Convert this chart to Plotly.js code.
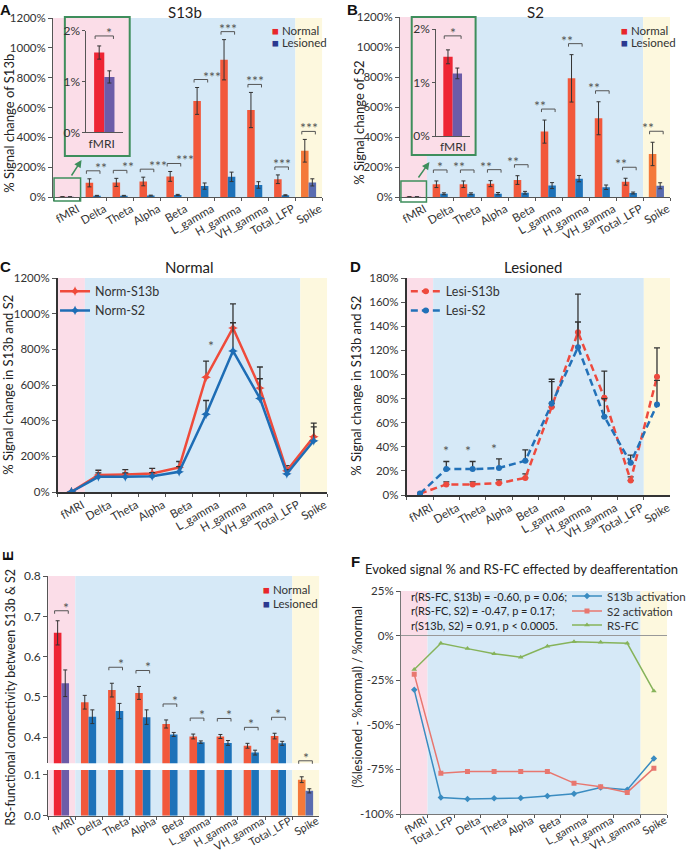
<!DOCTYPE html>
<html><head><meta charset="utf-8">
<script src="https://cdn.plot.ly/plotly-3.0.1.min.js"></script>
<style>html,body{margin:0;padding:0;background:#fff}#chart{width:691px;height:853px}</style>
</head><body><div id="chart"></div>
<script>
// ---------------- DATA ----------------
const categories = ['fMRI','Delta','Theta','Alpha','Beta','L_gamma','H_gamma','VH_gamma','Total_LFP','Spike'];
const categoriesF = ['fMRI','Total_LFP','Delta','Theta','Alpha','Beta','L_gamma','H_gamma','VH_gamma','Spike'];

// A: % signal change of S13b
const s13bNormal      = [1.57, 95, 98, 104, 138, 644, 920, 583, 119, 310];
const s13bNormalErr   = [0.13, 27, 27, 29, 33, 90, 135, 118, 29, 76];
const s13bLesioned    = [1.09, 8.8, 8.8, 9.8, 14.2, 73, 135, 80.7, 12, 98];
const s13bLesionedErr = [0.12, 2.1, 2.1, 2.7, 3.3, 21, 31.7, 22, 3, 24];
const s13bSig = ['*','**','**','***','***','***','***','***','***','***'];

// B: % signal change of S2
const s2Normal      = [1.48, 85, 85, 89, 113, 436, 791, 525, 102, 287];
const s2NormalErr   = [0.13, 22, 22, 20, 29, 77, 158, 110, 23, 78];
const s2Lesioned    = [1.17, 21.5, 21.5, 22.4, 28.4, 76, 122.5, 65, 26.7, 75];
const s2LesionedErr = [0.10, 6.3, 6.3, 7.6, 9, 20, 21, 15, 6.3, 20];
const s2Sig = ['*','*','**','**','**','**','**','**','**','**'];

// C / D significance between S13b and S2
const normalSig   = ['','','','','','*','','','',''];
const lesionedSig = ['','*','*','*','','','','','',''];

// E: RS-functional connectivity between S13b & S2
const rsfcNormal      = [0.659, 0.487, 0.517, 0.510, 0.433, 0.402, 0.402, 0.379, 0.403, 0.087];
const rsfcNormalErr   = [0.030, 0.017, 0.017, 0.016, 0.010, 0.006, 0.005, 0.006, 0.007, 0.007];
const rsfcLesioned    = [0.534, 0.451, 0.465, 0.450, 0.407, 0.388, 0.386, 0.362, 0.385, 0.060];
const rsfcLesionedErr = [0.033, 0.017, 0.019, 0.018, 0.005, 0.003, 0.006, 0.006, 0.005, 0.005];
const rsfcSig = ['*','','*','*','*','*','*','*','*','*'];

// F: (%lesioned - %normal) / %normal, in %
const s13bChange = [-30.4, -90.7, -91.6, -91.2, -91.1, -89.9, -88.6, -85.1, -86.4, -68.9];
const s2Change   = [-21.6, -77.1, -76.2, -76.2, -76.2, -76.2, -82.7, -84.7, -87.9, -74.3];
const rsfcChange = [-19.0, -4.3, -7.3, -10.2, -12.1, -6.0, -3.5, -3.7, -4.3, -31.1];
const fTickVals = [-100, -75, -50, -25, 0, 25];
const fTickText = ['-100%', '-75%', '-50%', '-25%', '0%', '25%'];
const insetTickVals = [0, 1, 2];
const insetTickText = ['0%', '1%', '2%'];
const corrText = ['r(RS-FC, S13b) = -0.60, p = 0.06;', 'r(RS-FC, S2) = -0.47, p = 0.17;', 'r(S13b, S2) = 0.91, p < 0.0005.'];

// ---------------- GEOMETRY / STYLE ----------------
const W = 691, H = 853;
const px = x => x / W;
const py = y => 1 - y / H;
const G = {
  A:  {L:54,  R:328, T:18,    B:197,   r:[0,1200]},
  Ai: {L:88,  R:125, T:30.7,  B:132.3, r:[0,2]},
  B:  {L:407, R:682, T:17,    B:197,   r:[0,1200]},
  Bi: {L:444, R:478, T:29,    B:136,   r:[0,2]},
  C:  {L:59,  R:333, T:278,   B:492,   r:[0,1200]},
  D:  {L:414, R:682, T:278,   B:495,   r:[0,180]},
  Eu: {L:49,  R:325, T:576,   B:763.3, r:[0.3355,0.8]},
  El: {L:49,  R:325, T:770,   B:815.7, r:[0,0.1104]},
  F:  {L:408, R:679, T:591,   B:814,   r:[-100,25]}
};
const PINK='#FBDDE8', BLUE='#D6E9F7', YEL='#FDF8DE', GREEN='#3E8E5C';
const FONT = 'Lato, "Liberation Sans", Arial, sans-serif';
const nC = categories.length;
const colN = categories.map((c,i)=> i===0 ? '#EE2534' : (i===nC-1 ? '#F4793A' : '#F2583B'));
const colL = categories.map((c,i)=> i===0 ? '#6C5CA8' : (i===nC-1 ? '#5A6CB0' : '#1D72B9'));
const BW = 0.28, OFFN = -0.29, OFFL = -0.01;
const errStyle = arr => ({type:'data', array:arr, color:'#333', thickness:1, width:2});
const upErr = arr => ({type:'data', symmetric:false, array:arr, arrayminus:arr.map(()=>0), color:'#333', thickness:1.3, width:3});

const yPix = (p, v) => p.B - (v - p.r[0]) / (p.r[1] - p.r[0]) * (p.B - p.T);
const xPix = (p, idx, n) => p.L + (idx + 0.5) / n * (p.R - p.L);

const shapes = [], annotations = [], traces = [];

// backgrounds
function bg(xr, yr){
  [[-0.5,0.5,PINK],[0.5,8.5,BLUE],[8.5,9.5,YEL]].forEach(([a,b,c])=>{
    shapes.push({type:'rect', xref:xr, yref:yr+' domain', x0:a, x1:b, y0:0, y1:1, fillcolor:c, line:{width:0}, layer:'below'});
  });
}
bg('x','y'); bg('x3','y3'); bg('x5','y5'); bg('x6','y6');
bg('x7','y7'); bg('x7','y8'); bg('x9','y9');

// inset boxes (fill) drawn after backgrounds
[[66,132,17,156],[419,484,17,155]].forEach(([l,r,t,b])=>{
  shapes.push({type:'rect', xref:'paper', yref:'paper', x0:px(l), x1:px(r), y0:py(b), y1:py(t), fillcolor:PINK, line:{color:GREEN, width:2}, layer:'below'});
});
// small boxes around fMRI + arrows
[[55,82,178,201],[408,434,181,202]].forEach(([l,r,t,b])=>{
  shapes.push({type:'rect', xref:'paper', yref:'paper', x0:px(l), x1:px(r), y0:py(b), y1:py(t), line:{color:GREEN, width:1.5}, layer:'above'});
});
[[83,160,-11,17],[437,162,-12,17]].forEach(([x,y,ax,ay])=>{
  annotations.push({xref:'paper', yref:'paper', x:px(x), y:py(y), ax:ax, ay:ay, text:'', showarrow:true, arrowhead:2, arrowsize:1, arrowwidth:1.5, arrowcolor:GREEN});
});

// significance brackets
const STAR = {size:14, color:'#555', family:FONT};
function bracket(p, n, i, topVal, gap, label){
  const y = yPix(p, topVal) - gap;
  const x0 = xPix(p, i + OFFN + 0.1*BW, n), x1 = xPix(p, i + OFFL + 0.9*BW, n);
  shapes.push({type:'path', xref:'paper', yref:'paper', layer:'above',
    path:`M${px(x0)},${py(y+3)} L${px(x0)},${py(y)} L${px(x1)},${py(y)} L${px(x1)},${py(y+3)}`,
    line:{color:'#555', width:1}});
  annotations.push({xref:'paper', yref:'paper', x:px((x0+x1)/2), y:py(y), yanchor:'bottom', yshift:-7,
    text:label, showarrow:false, font:STAR});
}
for (let i=1;i<nC;i++){
  if (s13bSig[i]) bracket(G.A, nC, i, s13bNormal[i]+s13bNormalErr[i], 8, s13bSig[i]);
  if (s2Sig[i]) bracket(G.B, nC, i, s2Normal[i]+s2NormalErr[i], 11, s2Sig[i]);
}
bracket(G.Ai, 1, 0, s13bNormal[0]+s13bNormalErr[0], 10, s13bSig[0]);
bracket(G.Bi, 1, 0, s2Normal[0]+s2NormalErr[0], 14, s2Sig[0]);
for (let i=0;i<nC;i++){
  if (!rsfcSig[i]) continue;
  const top = rsfcNormal[i]+rsfcNormalErr[i];
  bracket(top > G.Eu.r[0] ? G.Eu : G.El, nC, i, top, i===0 ? 10 : 16, rsfcSig[i]);
}
// C and D stars
for (let i=0;i<nC;i++){
  if (normalSig[i]){
    const top = Math.max(s13bNormal[i]+s13bNormalErr[i], s2Normal[i]+s2NormalErr[i]);
    annotations.push({xref:'paper', yref:'paper', x:px(xPix(G.C,i,nC)), y:py(yPix(G.C,top)-12), yanchor:'bottom', yshift:-7, text:normalSig[i], showarrow:false, font:STAR});
  }
  if (lesionedSig[i]){
    const top = Math.max(s13bLesioned[i]+s13bLesionedErr[i], s2Lesioned[i]+s2LesionedErr[i]);
    annotations.push({xref:'paper', yref:'paper', x:px(xPix(G.D,i,nC)), y:py(yPix(G.D,top)-7), yanchor:'bottom', yshift:-7, text:lesionedSig[i], showarrow:false, font:STAR});
  }
}

// ---------------- TRACES ----------------
function barPair(xa, ya, xs, yN, eN, yL, eL, cN, cL){
  traces.push({type:'bar', x:xs, y:yN, xaxis:xa, yaxis:ya, width:BW, offset:OFFN, marker:{color:cN, line:{width:0}}, error_y:errStyle(eN), showlegend:false});
  traces.push({type:'bar', x:xs, y:yL, xaxis:xa, yaxis:ya, width:BW, offset:OFFL, marker:{color:cL, line:{width:0}}, error_y:errStyle(eL), showlegend:false});
}
barPair('x','y', categories, s13bNormal, s13bNormalErr, s13bLesioned, s13bLesionedErr, colN, colL);
barPair('x2','y2', categories.slice(0,1), s13bNormal.slice(0,1), s13bNormalErr.slice(0,1), s13bLesioned.slice(0,1), s13bLesionedErr.slice(0,1), colN.slice(0,1), colL.slice(0,1));
barPair('x3','y3', categories, s2Normal, s2NormalErr, s2Lesioned, s2LesionedErr, colN, colL);
barPair('x4','y4', categories.slice(0,1), s2Normal.slice(0,1), s2NormalErr.slice(0,1), s2Lesioned.slice(0,1), s2LesionedErr.slice(0,1), colN.slice(0,1), colL.slice(0,1));
barPair('x7','y7', categories, rsfcNormal, rsfcNormalErr, rsfcLesioned, rsfcLesionedErr, colN, colL);
barPair('x7','y8', categories, rsfcNormal, rsfcNormalErr, rsfcLesioned, rsfcLesionedErr, colN, colL);

// C
traces.push({type:'scatter', mode:'lines+markers', name:'Norm-S13b', x:categories, y:s13bNormal, xaxis:'x5', yaxis:'y5',
  line:{color:'#EF4B3B', width:2.5}, marker:{symbol:'star-diamond', size:7, color:'#EF4B3B'}, error_y:upErr(s13bNormalErr), legend:'legend'});
traces.push({type:'scatter', mode:'lines+markers', name:'Norm-S2', x:categories, y:s2Normal, xaxis:'x5', yaxis:'y5',
  line:{color:'#1E6DB5', width:2.5}, marker:{symbol:'star-diamond', size:7, color:'#1E6DB5'}, error_y:upErr(s2NormalErr), legend:'legend'});
// D
traces.push({type:'scatter', mode:'lines+markers', name:'Lesi-S13b', x:categories, y:s13bLesioned, xaxis:'x6', yaxis:'y6',
  line:{color:'#EE4A3E', width:2.5, dash:'7px,4px'}, marker:{symbol:'circle', size:6, color:'#EE4A3E'}, error_y:upErr(s13bLesionedErr), legend:'legend2'});
traces.push({type:'scatter', mode:'lines+markers', name:'Lesi-S2', x:categories, y:s2Lesioned, xaxis:'x6', yaxis:'y6',
  line:{color:'#2271B8', width:2.5, dash:'7px,4px'}, marker:{symbol:'circle', size:6, color:'#2271B8'}, error_y:upErr(s2LesionedErr), legend:'legend2'});
// F
traces.push({type:'scatter', mode:'lines+markers', name:'S13b activation', x:categoriesF, y:s13bChange, xaxis:'x9', yaxis:'y9',
  line:{color:'#3A8CC1', width:1.5}, marker:{symbol:'diamond', size:5, color:'#3A8CC1'}, legend:'legend3'});
traces.push({type:'scatter', mode:'lines+markers', name:'S2 activation', x:categoriesF, y:s2Change, xaxis:'x9', yaxis:'y9',
  line:{color:'#E8776F', width:1.5}, marker:{symbol:'square', size:5, color:'#E8776F'}, legend:'legend4'});
traces.push({type:'scatter', mode:'lines+markers', name:'RS-FC', x:categoriesF, y:rsfcChange, xaxis:'x9', yaxis:'y9',
  line:{color:'#86B35A', width:1.5}, marker:{symbol:'triangle-up', size:5, color:'#86B35A'}, legend:'legend5'});

// ---------------- AXES ----------------
function xax(p, anchor, cats, extra){
  return Object.assign({domain:[px(p.L), px(p.R)], anchor:anchor, type:'category', categoryorder:'array', categoryarray:cats,
    range:[-0.5, cats.length-0.5], showline:true, linecolor:'#555', linewidth:1, ticks:'outside', tickson:'boundaries',
    ticklen:3, tickcolor:'#555', tickangle:-30, ticklabelshift:11, tickfont:{size:11.5, color:'#333'}, showgrid:false, zeroline:false, fixedrange:true}, extra||{});
}
function yax(p, anchor, extra){
  return Object.assign({domain:[py(p.B), py(p.T)], anchor:anchor, range:p.r, showline:true, linecolor:'#555', linewidth:1,
    ticks:'outside', ticklen:4, tickcolor:'#555', tickfont:{size:11.5, color:'#333'}, showgrid:false, zeroline:false, fixedrange:true}, extra||{});
}
const layout = {
  width:W, height:H, margin:{l:0,r:0,t:0,b:0}, paper_bgcolor:'#fff', plot_bgcolor:'rgba(0,0,0,0)',
  font:{family:FONT, size:11.5, color:'#333'}, barmode:'overlay', showlegend:true,
  xaxis:  xax(G.A,'y',categories),
  yaxis:  yax(G.A,'x',{dtick:200, ticksuffix:'%'}),
  xaxis2: xax(G.Ai,'y2',['fMRI'],{ticks:'', tickangle:0, ticklabelshift:-3, tickfont:{size:12,color:'#333'}}),
  yaxis2: yax(G.Ai,'x2',{tickvals:insetTickVals, ticktext:insetTickText, tickfont:{size:12,color:'#333'}, ticklen:3}),
  xaxis3: xax(G.B,'y3',categories),
  yaxis3: yax(G.B,'x3',{dtick:200, ticksuffix:'%'}),
  xaxis4: xax(G.Bi,'y4',['fMRI'],{ticks:'', tickangle:0, ticklabelshift:0, tickfont:{size:12,color:'#333'}}),
  yaxis4: yax(G.Bi,'x4',{tickvals:insetTickVals, ticktext:insetTickText, tickfont:{size:12,color:'#333'}, ticklen:3}),
  xaxis5: xax(G.C,'y5',categories,{linecolor:'#333', linewidth:2}),
  yaxis5: yax(G.C,'x5',{dtick:200, ticksuffix:'%', linecolor:'#333', linewidth:2}),
  xaxis6: xax(G.D,'y6',categories,{linecolor:'#333', linewidth:2}),
  yaxis6: yax(G.D,'x6',{dtick:20, ticksuffix:'%', linecolor:'#333', linewidth:2}),
  xaxis7: xax(G.El,'y8',categories,{tickfont:{size:11,color:'#333'}, ticklabelstandoff:-6}),
  yaxis7: yax(G.Eu,'x7',{tickvals:[0.4,0.5,0.6,0.7,0.8], tickformat:'.1f', tickfont:{size:12,color:'#333'}}),
  yaxis8: yax(G.El,'x7',{tickvals:[0,0.1], tickformat:'.1f', tickfont:{size:12,color:'#333'}}),
  xaxis9: xax(G.F,'y9',categoriesF,{linecolor:'#777', tickfont:{size:11,color:'#333'}, ticklabelstandoff:-5}),
  yaxis9: yax(G.F,'x9',{tickvals:fTickVals, ticktext:fTickText, linecolor:'#777', zeroline:true, zerolinecolor:'#999', zerolinewidth:1}),
  legend:  {x:px(56), y:py(301), xanchor:'left', yanchor:'middle', bgcolor:'rgba(0,0,0,0)', font:{size:12.5, color:'#333'}},
  legend2: {x:px(413), y:py(301), xanchor:'left', yanchor:'middle', bgcolor:'rgba(0,0,0,0)', font:{size:12.5, color:'#333'}},
  legend3: {x:px(577), y:py(596), xanchor:'left', yanchor:'middle', bgcolor:'rgba(0,0,0,0)', font:{size:11.5, color:'#333'}},
  legend4: {x:px(577), y:py(611), xanchor:'left', yanchor:'middle', bgcolor:'rgba(0,0,0,0)', font:{size:11.5, color:'#333'}},
  legend5: {x:px(577), y:py(625), xanchor:'left', yanchor:'middle', bgcolor:'rgba(0,0,0,0)', font:{size:11.5, color:'#333'}},
  shapes: shapes, annotations: annotations
};

// legends as square swatches (A, B, E)
function sqLegend(x, y, gap, items){
  items.forEach(([txt,col],k)=>{
    annotations.push({xref:'paper', yref:'paper', x:px(x), y:py(y+k*gap), xanchor:'left', yanchor:'middle', showarrow:false,
      text:`<span style="color:${col}">■</span> ${txt}`, font:{size:11.5, color:'#333', family:FONT}});
  });
}
sqLegend(275, 30, 13, [['Normal','#E8262B'],['Lesioned','#2B3990']]);
sqLegend(630, 30, 13, [['Normal','#E8262B'],['Lesioned','#2B3990']]);
sqLegend(266, 589, 14, [['Normal','#E8262B'],['Lesioned','#2B3990']]);

// titles, letters, axis titles
const txt = (x,y,t,o) => annotations.push(Object.assign({xref:'paper', yref:'paper', x:px(x), y:py(y), text:t, showarrow:false, xanchor:'center', yanchor:'middle', font:{family:FONT, size:13, color:'#222'}}, o||{}));
const bold = {borderpad:0, font:{family:'"Liberation Sans", Arial, sans-serif', size:15, color:'#111'}};
txt(6,9,'<b>A</b>',bold); txt(359,9,'<b>B</b>',bold); txt(6,266,'<b>C</b>',bold); txt(362,266,'<b>D</b>',bold);
txt(7,556,'<b>E</b>',Object.assign({textangle:-90},bold)); txt(362,561,'<b>F</b>',bold);
txt(188,12,'S13b',{font:{family:FONT,size:15,color:'#222'}});
txt(545,12,'S2',{font:{family:FONT,size:15,color:'#222'}});
txt(193,267,'Normal',{font:{family:FONT,size:15,color:'#222'}});
txt(542,267,'Lesioned',{font:{family:FONT,size:15,color:'#222'}});
txt(531,569,'Evoked signal % and RS-FC effected by deafferentation',{font:{family:FONT,size:13,color:'#222'}});
txt(9,123,'% Signal change of S13b',{textangle:-90});
txt(365,123,'% Signal change of S2',{textangle:-90});
txt(8,385,'% Signal change in S13b and S2',{textangle:-90});
txt(362,386,'% Signal change in S13b and S2',{textangle:-90});
txt(10,697,'RS-functional connectivity between S13b &amp; S2',{textangle:-90, font:{family:FONT,size:12.5,color:'#222'}});
txt(363,697,'(%lesioned - %normal) / %normal',{textangle:-90, font:{family:FONT,size:12.5,color:'#222'}});
corrText.forEach((t,k)=> txt(416, 596+k*14.5, t, {xanchor:'left', font:{family:FONT,size:11,color:'#222'}}));

Plotly.newPlot('chart', traces, layout, {staticPlot:true});
</script></body></html>
